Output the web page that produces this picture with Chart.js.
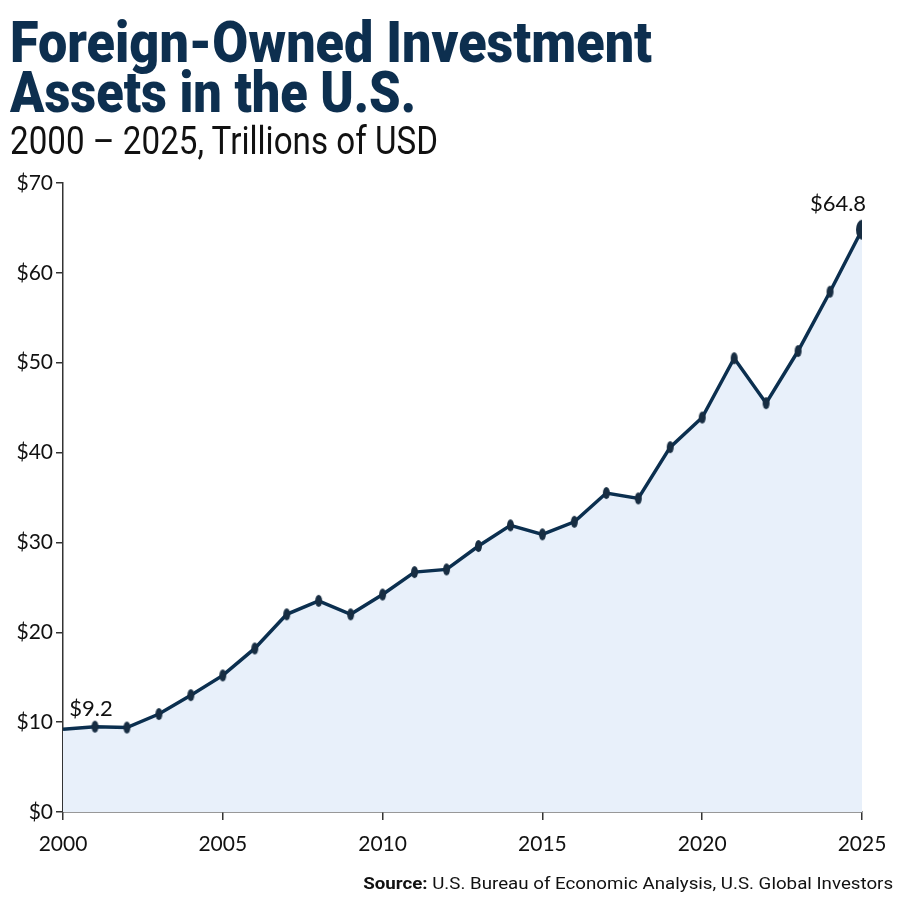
<!DOCTYPE html>
<html>
<head>
<meta charset="utf-8">
<script src="https://cdn.jsdelivr.net/npm/chart.js@4.4.1/dist/chart.umd.min.js"></script>
<style>
  html, body { margin: 0; padding: 0; background: #fff; }
  #wrap { position: relative; width: 900px; height: 900px; overflow: hidden; }
  #chart { position: absolute; left: 0; top: 0; }
  .fit { position: absolute; left: 10px; white-space: nowrap; transform-origin: 0 0; font-family: Roboto, sans-serif; }
  #t1, #t2 { font-size: 57px; font-weight: 900; color: #0d2f4f; line-height: 56px; }
  #t1 { top: 15px; }
  #t2 { top: 65px; }
  #sub { top: 119px; font-size: 39px; font-weight: 400; color: #111; line-height: 44px; }
  #src { position: absolute; right: 7px; top: 873px; font-family: Roboto, sans-serif; font-size: 17px; color: #111; white-space: nowrap; transform-origin: 100% 0; }
</style>
</head>
<body>
<div id="wrap">
  <canvas id="chart" width="900" height="900"></canvas>
  <div class="fit" id="t1" data-w="642">Foreign-Owned Investment</div>
  <div class="fit" id="t2" data-w="406">Assets in the U.S.</div>
  <div class="fit" id="sub" data-w="428">2000 – 2025, Trillions of USD</div>
  <div id="src" data-w="530"><b>Source:</b> U.S. Bureau of Economic Analysis, U.S. Global Investors</div>
</div>
<script>
// DATA
const years = [2000, 2001, 2002, 2003, 2004, 2005, 2006, 2007, 2008, 2009, 2010, 2011, 2012,
               2013, 2014, 2015, 2016, 2017, 2018, 2019, 2020, 2021, 2022, 2023, 2024, 2025];
const assets = [9.2, 9.5, 9.4, 10.9, 13.0, 15.2, 18.2, 22.0, 23.5, 22.0, 24.2, 26.7, 27.0,
                29.6, 31.9, 30.9, 32.3, 35.5, 34.9, 40.6, 43.9, 50.5, 45.5, 51.3, 57.9, 64.8];
const yTicks = [0, 10, 20, 30, 40, 50, 60, 70];
const xTicks = [2000, 2005, 2010, 2015, 2020, 2025];

// squeeze text to the widths in the original
document.querySelectorAll("[data-w]").forEach(el => {
    const w = el.getBoundingClientRect().width;
    el.style.transform = "scaleX(" + (el.dataset.w / w) + ")";
});

// elliptical markers
function ellipse(w, h) {
    const c = document.createElement("canvas");
    c.width = w + 2; c.height = h + 2;
    const ctx = c.getContext("2d");
    ctx.fillStyle = "#172d42";
    ctx.beginPath();
    ctx.ellipse(c.width / 2, c.height / 2, w / 2, h / 2, 0, 0, Math.PI * 2);
    ctx.fill();
    return c;
}
const dot = ellipse(7, 12);
const bigDot = ellipse(12, 20);

const labelPlugin = {
    id: "valueLabels",
    afterDatasetsDraw(chart) {
        const { ctx, scales } = chart;
        ctx.save();
        ctx.font = "22px Lato, sans-serif";
        ctx.fillStyle = "#111";
        ctx.textAlign = "center";
        ctx.textBaseline = "alphabetic";
        const first = 0, last = assets.length - 1;
        ctx.fillText("$" + assets[first].toFixed(1), scales.x.getPixelForValue(years[first]) + 28, scales.y.getPixelForValue(assets[first]) - 13);
        ctx.fillText("$" + assets[last].toFixed(1), scales.x.getPixelForValue(years[last]) - 24, scales.y.getPixelForValue(assets[last]) - 19);
        ctx.restore();
    }
};

const tickFont = { family: "Lato, sans-serif", size: 21 };

new Chart(document.getElementById("chart"), {
    type: "line",
    data: {
        datasets: [{
            data: years.map((y, i) => ({ x: y, y: assets[i] })),
            borderColor: "#0b2f4f",
            borderWidth: 3.5,
            backgroundColor: "#e8f0fa",
            fill: "origin",
            tension: 0,
            pointStyle: ctx => ctx.dataIndex === assets.length - 1 ? bigDot : dot,
            pointRadius: ctx => ctx.dataIndex === 0 ? 0 : 5,
            pointHoverRadius: 5
        }]
    },
    options: {
        responsive: false,
        animation: false,
        events: [],
        layout: { padding: { left: 0, right: 38, top: 183, bottom: 0 } },
        plugins: { legend: { display: false }, tooltip: { enabled: false } },
        scales: {
            x: {
                type: "linear",
                min: 2000,
                max: 2025,
                afterBuildTicks: s => { s.ticks = xTicks.map(v => ({ value: v })); },
                afterFit: s => { s.height = 88; },
                ticks: { color: "#111", font: tickFont, padding: 12, callback: v => String(v) },
                grid: { drawOnChartArea: false, tickLength: 8, color: "#333", lineWidth: 1.5 },
                border: { color: "#333", width: 1.5 }
            },
            y: {
                min: 0,
                max: 70,
                afterBuildTicks: s => { s.ticks = yTicks.map(v => ({ value: v })); },
                afterFit: s => { s.width = 63; },
                ticks: { color: "#111", font: tickFont, padding: 3, callback: v => "$" + v },
                grid: { drawOnChartArea: false, tickLength: 7, color: "#333", lineWidth: 1.5 },
                border: { color: "#333", width: 1.5 }
            }
        }
    },
    plugins: [labelPlugin]
});
</script>
</body>
</html>
